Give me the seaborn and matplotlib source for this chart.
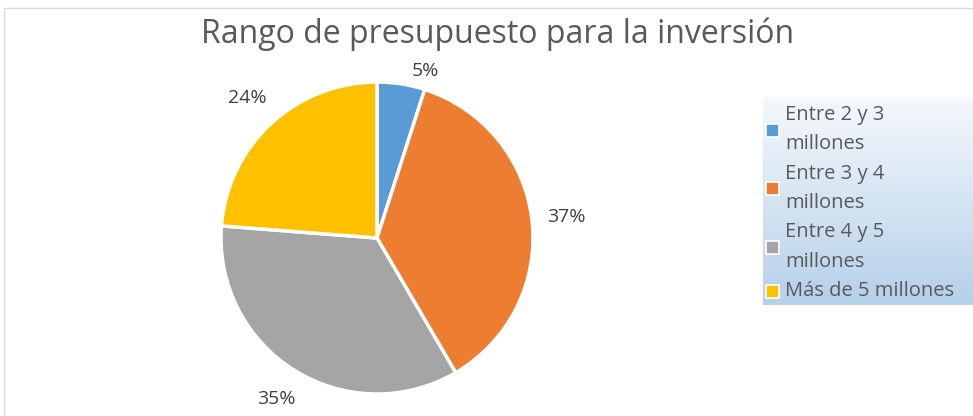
import numpy as np
import matplotlib
matplotlib.use("Agg")
import matplotlib.pyplot as plt
from matplotlib.patches import Rectangle
import seaborn as sns

# Data
categories = ["Entre 2 y 3\nmillones", "Entre 3 y 4\nmillones",
              "Entre 4 y 5\nmillones", "Más de 5 millones"]
values = [5, 37, 35, 24]
pct_labels = ["5%", "37%", "35%", "24%"]
colors = ["#5B9BD5", "#ED7D31", "#A5A5A5", "#FFC000"]

sns.set_theme(style="white")
plt.rcParams['font.family'] = ['Open Sans', 'DejaVu Sans']

W, H = 973, 416
fig = plt.figure(figsize=(W / 100, H / 100), dpi=100)
fig.patch.set_facecolor("white")

# chart area border (top / left visible)
fig.add_artist(Rectangle((4 / W, -0.1), 1.2, (H - 8) / H + 0.1, transform=fig.transFigure,
                         fill=False, edgecolor="#d9d9d9", linewidth=1))

# pie axes
cx, cy, r = 377, 238, 156
ax = fig.add_axes([(cx - r) / W, (H - cy - r) / H, 2 * r / W, 2 * r / H])
pal = sns.color_palette(colors)
wedges, texts = ax.pie(values, labels=pct_labels, colors=pal,
                       startangle=90, counterclock=False, radius=1,
                       labeldistance=1.22,
                       wedgeprops=dict(edgecolor="white", linewidth=2.5),
                       textprops=dict(color="#404040", fontsize=14))
for t in texts:
    t.set_horizontalalignment("center")
    t.set_verticalalignment("center")
texts[0].set_position((0.31, 1.07))
ax.set_xlim(-1, 1)
ax.set_ylim(-1, 1)
ax.set_aspect("equal")
ax.axis("off")

# title
fig.text(498 / W, 1 - 34 / H, "Rango de presupuesto para la inversión",
         ha="center", va="center", fontsize=23, color="#595959")

# legend background with gradient
lx0, ly0, lx1, ly1 = 763, 97, 973, 305
bg = fig.add_axes([lx0 / W, 1 - ly1 / H, (lx1 - lx0) / W, (ly1 - ly0) / H], zorder=0)
grad = np.linspace(0, 1, 256).reshape(-1, 1)
cmap = matplotlib.colors.LinearSegmentedColormap.from_list("bg", ["#f5f8fc", "#b5d0e9"])
bg.imshow(grad, aspect="auto", cmap=cmap, extent=[0, 1, 1, 0])
bg.axis("off")

# legend entries drawn by hand (Excel-like wrapped labels)
line_h = 29.3
y = 115
for c, lab in zip(pal, categories):
    lines = lab.split("\n")
    ymid = y + (len(lines) - 1) * line_h / 2
    fig.add_artist(Rectangle((766 / W, 1 - (ymid + 7) / H), 13 / W, 13 / H,
                             transform=fig.transFigure, facecolor=c,
                             edgecolor="white", linewidth=1.2))
    for ln in lines:
        fig.text(785 / W, 1 - y / H, ln, ha="left", va="center",
                 fontsize=14.5, color="#595959")
        y += line_h

fig.savefig("out.png", dpi=100, facecolor="white")
